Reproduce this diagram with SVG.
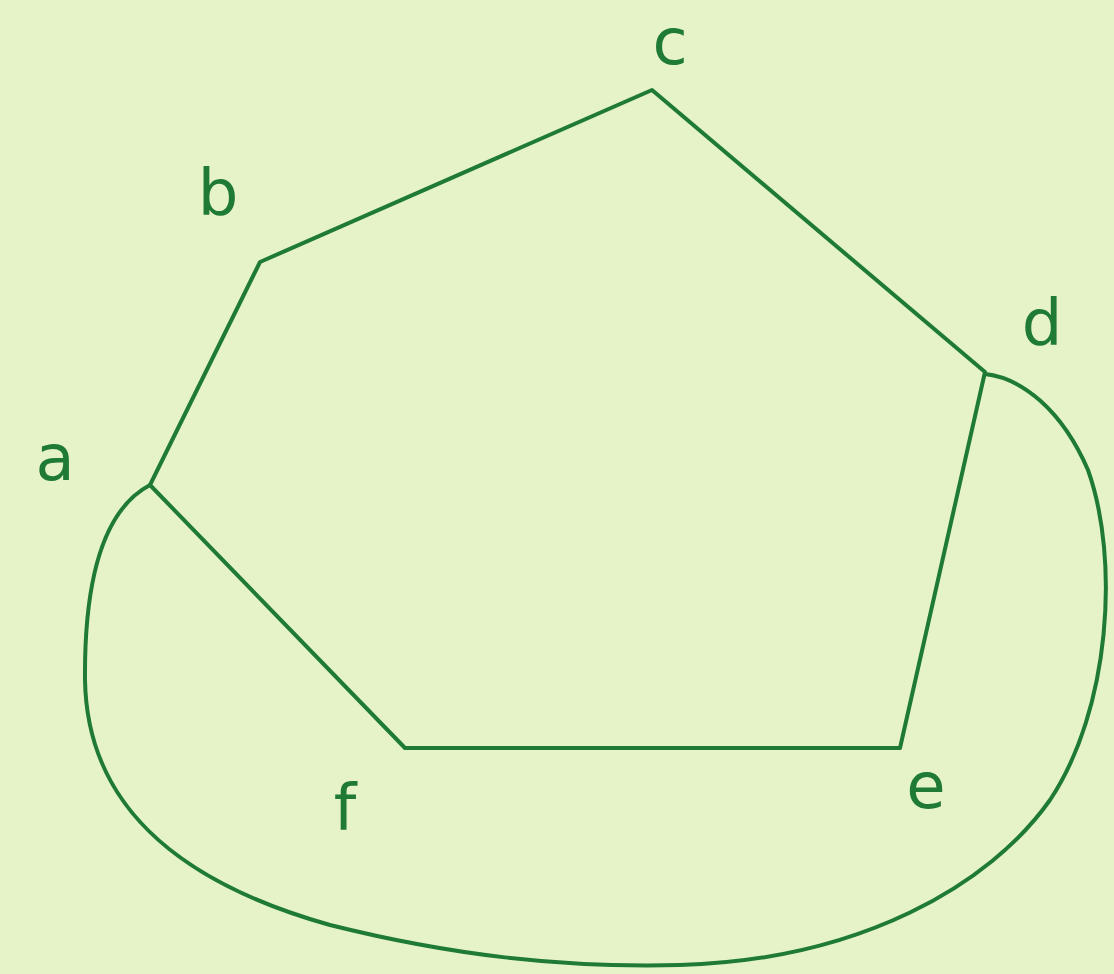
<svg xmlns="http://www.w3.org/2000/svg" width="1114" height="974" viewBox="0 0 1114 974">
<style>
.edge{fill:none;stroke:#1e7a34;stroke-width:4;stroke-linejoin:round;stroke-linecap:round}
.lbl{font-family:"DejaVu Sans",sans-serif;font-size:64px;fill:#1e7a34;text-anchor:middle}
</style>
<rect width="1114" height="974" fill="#e6f3c9"/>
<g id="connectors">
<path class="edge" d="M150,485 L260,262 L652,90 L985,372 L900,748 L405,748 Z"/>
<path class="edge" d="M150,485 C112,505 84,560 85,680 C87,800 170,880 330,925 C450,955 560,968 680,965 C860,960 990,885 1050,800 C1110,710 1120,560 1088,470 C1062,410 1022,378 985,374"/>
</g>
<g id="node-a"><text class="lbl" x="55" y="480">a</text></g>
<g id="node-b"><text class="lbl" x="218" y="215">b</text></g>
<g id="node-c"><text class="lbl" x="670" y="64">c</text></g>
<g id="node-d"><text class="lbl" x="1042" y="345">d</text></g>
<g id="node-e"><text class="lbl" x="926" y="808">e</text></g>
<g id="node-f"><text class="lbl" x="345" y="830">f</text></g>
</svg>
